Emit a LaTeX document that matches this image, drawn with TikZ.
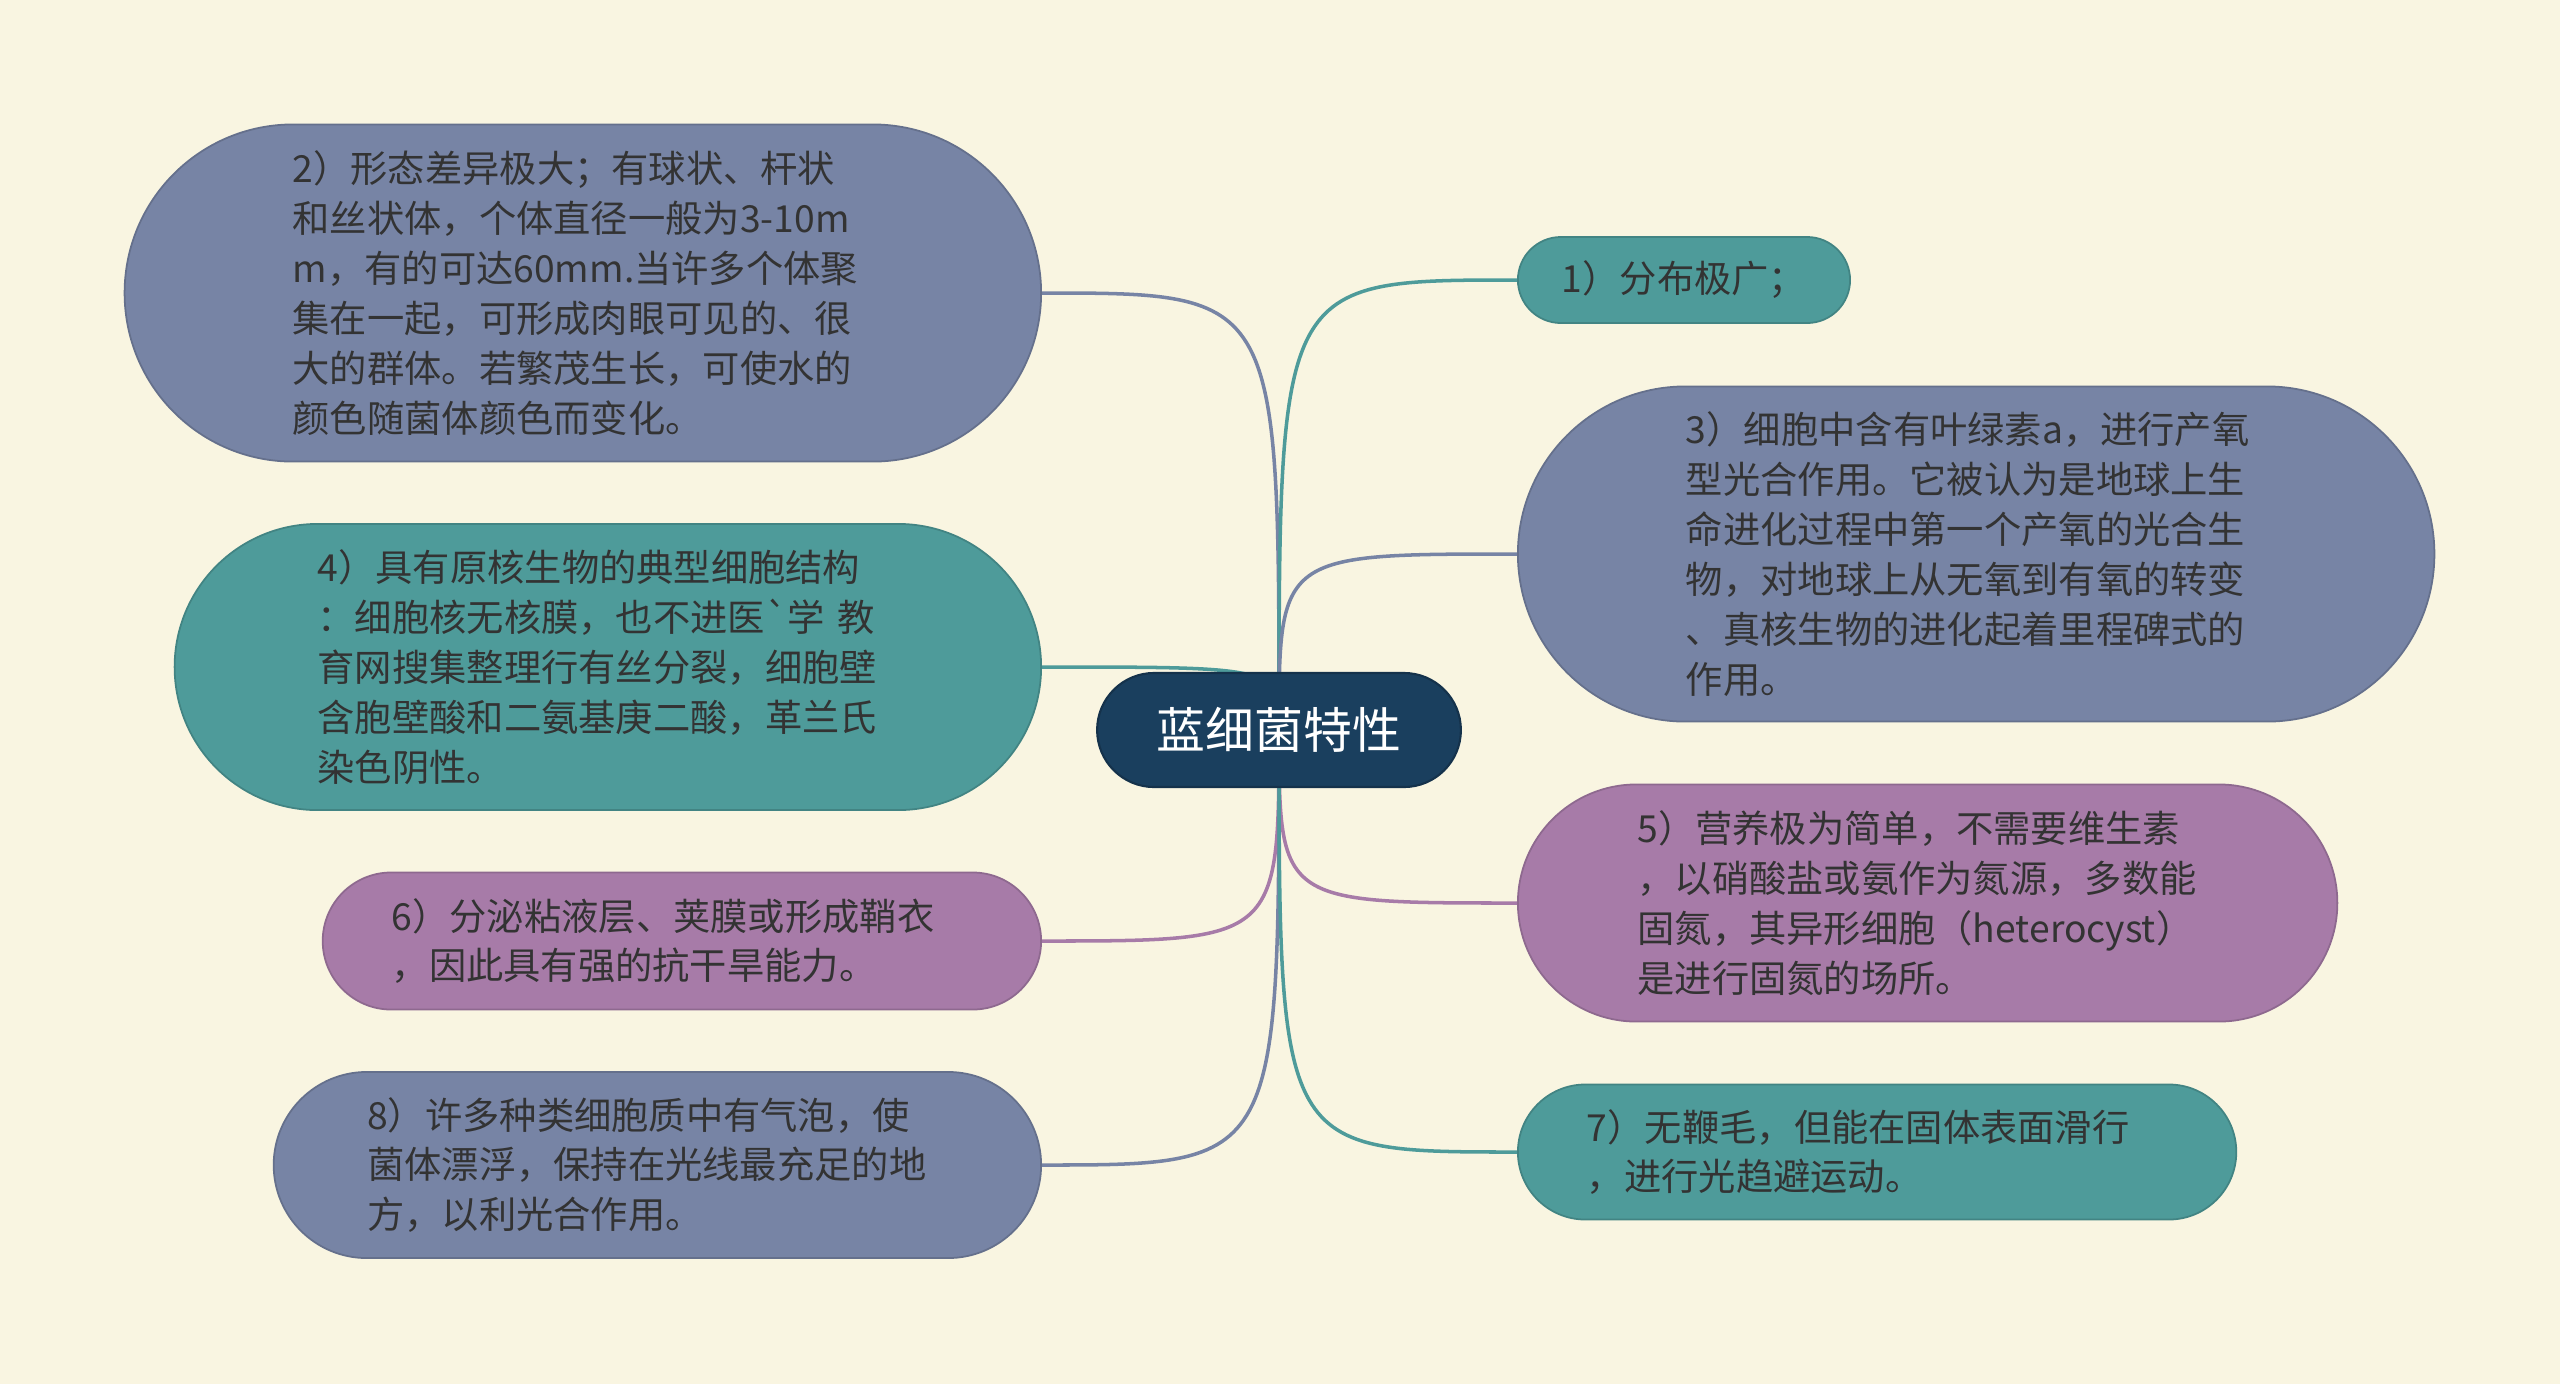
\documentclass[tikz,border=0pt]{standalone}
\usepackage{fontspec}
\newfontfamily\cjk{Noto Sans CJK SC}
\usetikzlibrary{shapes.misc}
\pgfdeclarelayer{links}
\pgfsetlayers{links,main}

\definecolor{bgcream}{HTML}{F9F5E1}
\definecolor{navy}{HTML}{1A3F5E}
\definecolor{slate}{HTML}{7784A5}
\definecolor{teal}{HTML}{4E9B9A}
\definecolor{mauve}{HTML}{A77BA8}
\definecolor{textgray}{HTML}{333333}

\tikzstyle{root} = [rounded rectangle, draw=navy!80!black, line width=0.6pt, fill=navy, text=white, font=\cjk\fontsize{13.9pt}{16pt}\selectfont, minimum width=3.87cm, minimum height=1.14cm]
\tikzstyle{leaf} = [rounded rectangle, line width=0.5pt, text=textgray, align=left, inner sep=0pt, text width=5.8cm, font=\cjk\fontsize{10.6pt}{14.2pt}\selectfont]
\tikzstyle{slatebox} = [leaf, fill=slate, draw=slate!85!black]
\tikzstyle{tealbox} = [leaf, fill=teal, draw=teal!85!black]
\tikzstyle{mauvebox} = [leaf, fill=mauve, draw=mauve!85!black]
\tikzstyle{link} = [line width=1pt]

\begin{document}
\begin{tikzpicture}[x=0.01cm, y=-0.01cm]
\useasboundingbox (0,0) rectangle (2560,1384);

\node (root) [root] at (1279,730) {蓝细菌特性};

% left side
\node (p2) [slatebox, anchor=east, minimum width=9.16cm, minimum height=3.37cm] at (1042,293) {2）形态差异极大；有球状、杆状\\和丝状体，个体直径一般为3-10m\\m，有的可达60mm.当许多个体聚\\集在一起，可形成肉眼可见的、很\\大的群体。若繁茂生长，可使水的\\颜色随菌体颜色而变化。};
\node (p4) [tealbox, anchor=east, minimum width=8.66cm, minimum height=2.86cm] at (1042,667) {4）具有原核生物的典型细胞结构\\：细胞核无核膜，也不进医{\char96}学 教\\育网搜集整理行有丝分裂，细胞壁\\含胞壁酸和二氨基庚二酸，革兰氏\\染色阴性。};
\node (p6) [mauvebox, anchor=east, minimum width=7.18cm, minimum height=1.37cm] at (1042,941) {6）分泌粘液层、荚膜或形成鞘衣\\，因此具有强的抗干旱能力。};
\node (p8) [slatebox, anchor=east, minimum width=7.67cm, minimum height=1.86cm] at (1042,1165) {8）许多种类细胞质中有气泡，使\\菌体漂浮，保持在光线最充足的地\\方，以利光合作用。};

% right side
\node (p1) [tealbox, anchor=west, text width=, minimum width=3.32cm, minimum height=0.86cm] at (1517,280) {1）分布极广；};
\node (p3) [slatebox, anchor=west, minimum width=9.16cm, minimum height=3.35cm] at (1517,554) {3）细胞中含有叶绿素a，进行产氧\\型光合作用。它被认为是地球上生\\命进化过程中第一个产氧的光合生\\物，对地球上从无氧到有氧的转变\\、真核生物的进化起着里程碑式的\\作用。};
\node (p5) [mauvebox, anchor=west, minimum width=8.19cm, minimum height=2.37cm] at (1517,903) {5）营养极为简单，不需要维生素\\，以硝酸盐或氨作为氮源，多数能\\固氮，其异形细胞（heterocyst）\\是进行固氮的场所。};
\node (p7) [tealbox, anchor=west, minimum width=7.18cm, minimum height=1.35cm] at (1517,1152) {7）无鞭毛，但能在固体表面滑行\\，进行光趋避运动。};

\begin{pgfonlayer}{links}
\fill [bgcream] (0,0) rectangle (2560,1384);
\draw [link, slate] (root.center) .. controls (root.center |- p2.east) .. (p2.east);
\draw [link, teal] (root.center) .. controls (root.center |- p4.east) .. (p4.east);
\draw [link, mauve] (root.center) .. controls (root.center |- p6.east) .. (p6.east);
\draw [link, slate] (root.center) .. controls (root.center |- p8.east) .. (p8.east);
\draw [link, teal] (root.center) .. controls (root.center |- p1.west) .. (p1.west);
\draw [link, slate] (root.center) .. controls (root.center |- p3.west) .. (p3.west);
\draw [link, mauve] (root.center) .. controls (root.center |- p5.west) .. (p5.west);
\draw [link, teal] (root.center) .. controls (root.center |- p7.west) .. (p7.west);
\end{pgfonlayer}
\end{tikzpicture}
\end{document}
